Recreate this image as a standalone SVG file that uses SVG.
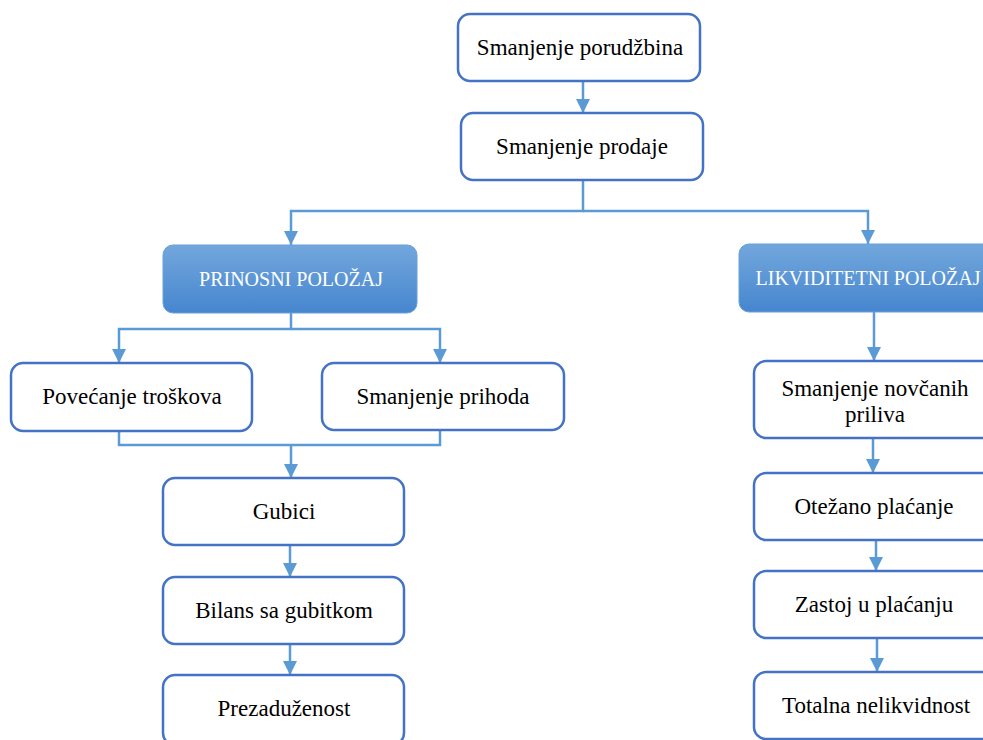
<svg xmlns="http://www.w3.org/2000/svg" width="983" height="740" viewBox="0 0 983 740">
  <defs>
    <linearGradient id="hdr" x1="0" y1="0" x2="0" y2="1">
      <stop offset="0" stop-color="#72a7dc"/>
      <stop offset="1" stop-color="#4686cf"/>
    </linearGradient>
    <marker id="arr" viewBox="0 0 14 14" refX="14" refY="7" markerWidth="14" markerHeight="14" markerUnits="userSpaceOnUse" orient="auto">
      <path d="M0,0 L14,7 L0,14 Z" fill="#5b9bd5"/>
    </marker>
  </defs>
  <style>
    .box { fill: #ffffff; stroke: #4472c4; stroke-width: 2.5; }
    .hdr { fill: url(#hdr); stroke: #6aa0d8; stroke-width: 1; }
    .t { font-family: "Liberation Serif", "DejaVu Serif", serif; font-size: 23px; fill: #000000; text-anchor: middle; }
    .th { font-family: "Liberation Serif", "DejaVu Serif", serif; font-size: 20px; fill: #ffffff; text-anchor: middle; }
    .c { fill: none; stroke: #5b9bd5; stroke-width: 2.5; }
  </style>
  <rect width="983" height="740" fill="#ffffff"/>

  <!-- connectors -->
  <g id="connectors">
    <path class="c" d="M583,81 V113" marker-end="url(#arr)"/>
    <path class="c" d="M583,180 V211 H291 V245" marker-end="url(#arr)"/>
    <path class="c" d="M583,211 H868 V244" marker-end="url(#arr)"/>
    <path class="c" d="M291,313 V329 H119 V363" marker-end="url(#arr)"/>
    <path class="c" d="M291,329 H440 V363" marker-end="url(#arr)"/>
    <path class="c" d="M119,431 V445 H440 V430"/>
    <path class="c" d="M291,445 V478" marker-end="url(#arr)"/>
    <path class="c" d="M290,545 V577" marker-end="url(#arr)"/>
    <path class="c" d="M290,644 V675" marker-end="url(#arr)"/>
    <path class="c" d="M874,312 V361" marker-end="url(#arr)"/>
    <path class="c" d="M873,438 V473" marker-end="url(#arr)"/>
    <path class="c" d="M876,540 V571" marker-end="url(#arr)"/>
    <path class="c" d="M877,638 V672" marker-end="url(#arr)"/>
  </g>

  <g id="n-porudzbina">
    <rect class="box" x="458" y="14" width="242" height="67" rx="12"/>
    <text class="t" x="580" y="55">Smanjenje porudžbina</text>
  </g>
  <g id="n-prodaja">
    <rect class="box" x="461" y="113" width="242" height="67" rx="12"/>
    <text class="t" x="582" y="154">Smanjenje prodaje</text>
  </g>
  <g id="n-prinosni">
    <rect class="hdr" x="163" y="245" width="254" height="68" rx="10"/>
    <text class="th" x="291" y="286">PRINOSNI POLOŽAJ</text>
  </g>
  <g id="n-likviditetni">
    <rect class="hdr" x="739" y="244" width="260" height="68" rx="10"/>
    <text class="th" x="868" y="285" font-size="19.5">LIKVIDITETNI POLOŽAJ</text>
  </g>
  <g id="n-troskovi">
    <rect class="box" x="11" y="363" width="241" height="68" rx="12"/>
    <text class="t" x="132" y="404">Povećanje troškova</text>
  </g>
  <g id="n-prihodi">
    <rect class="box" x="322" y="363" width="242" height="67" rx="12"/>
    <text class="t" x="443" y="404">Smanjenje prihoda</text>
  </g>
  <g id="n-gubici">
    <rect class="box" x="163" y="478" width="241" height="67" rx="12"/>
    <text class="t" x="284" y="519">Gubici</text>
  </g>
  <g id="n-bilans">
    <rect class="box" x="163" y="577" width="241" height="67" rx="12"/>
    <text class="t" x="284" y="618">Bilans sa gubitkom</text>
  </g>
  <g id="n-prezaduzenost">
    <rect class="box" x="163" y="675" width="241" height="70" rx="12"/>
    <text class="t" x="284" y="716">Prezaduženost</text>
  </g>
  <g id="n-prilivi">
    <rect class="box" x="754" y="361" width="245" height="77" rx="12"/>
    <text class="t" x="875" y="396">Smanjenje novčanih</text>
    <text class="t" x="875" y="422">priliva</text>
  </g>
  <g id="n-otezano">
    <rect class="box" x="754" y="473" width="245" height="67" rx="12"/>
    <text class="t" x="874" y="514">Otežano plaćanje</text>
  </g>
  <g id="n-zastoj">
    <rect class="box" x="754" y="571" width="245" height="67" rx="12"/>
    <text class="t" x="874" y="612">Zastoj u plaćanju</text>
  </g>
  <g id="n-nelikvidnost">
    <rect class="box" x="754" y="672" width="245" height="67" rx="12"/>
    <text class="t" x="876" y="713">Totalna nelikvidnost</text>
  </g>
</svg>
